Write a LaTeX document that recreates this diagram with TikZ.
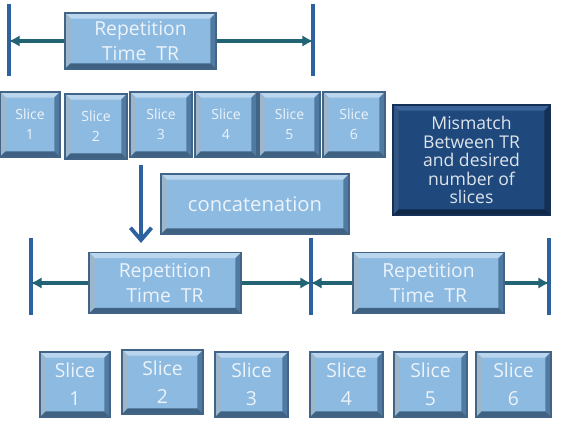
\documentclass[tikz,border=0pt]{standalone}
\usepackage{fontspec}
\setmainfont{Open Sans}
\usetikzlibrary{arrows.meta}

\definecolor{faceblue}{RGB}{141,186,225}
\definecolor{lightedge}{RGB}{186,214,238}
\definecolor{darkedge}{RGB}{80,122,162}
\definecolor{boxline}{RGB}{66,100,135}
\definecolor{boxtext}{RGB}{236,243,250}
\definecolor{navyface}{RGB}{31,73,125}
\definecolor{navylight}{RGB}{60,100,152}
\definecolor{navydark}{RGB}{20,48,86}
\definecolor{notetext}{RGB}{222,228,236}
\definecolor{barblue}{RGB}{46,98,158}
\definecolor{tealline}{RGB}{34,100,116}

\tikzset{
  boxsize/.style 2 args={minimum width=#1*0.02cm, minimum height=#2*0.02cm},
  % bevelled edges drawn inside the node
  bevel/.style 2 args={path picture={
    \fill[#1] (path picture bounding box.north west) -- (path picture bounding box.north east)
      -- ([xshift=-3.2pt,yshift=-3.2pt]path picture bounding box.north east)
      -- ([xshift=3.2pt,yshift=-3.2pt]path picture bounding box.north west) -- cycle;
    \fill[#1!85!black] (path picture bounding box.north west) -- (path picture bounding box.south west)
      -- ([xshift=3.2pt,yshift=3.2pt]path picture bounding box.south west)
      -- ([xshift=3.2pt,yshift=-3.2pt]path picture bounding box.north west) -- cycle;
    \fill[#2] (path picture bounding box.north east) -- (path picture bounding box.south east)
      -- ([xshift=-3.2pt,yshift=3.2pt]path picture bounding box.south east)
      -- ([xshift=-3.2pt,yshift=-3.2pt]path picture bounding box.north east) -- cycle;
    \fill[#2!80!black] (path picture bounding box.south west) -- (path picture bounding box.south east)
      -- ([xshift=-3.2pt,yshift=3.2pt]path picture bounding box.south east)
      -- ([xshift=3.2pt,yshift=3.2pt]path picture bounding box.south west) -- cycle;
  }},
  lightbox/.style={fill=faceblue, draw=boxline, line width=0.6pt, text=boxtext,
    inner sep=0pt, align=center, bevel={lightedge}{darkedge}},
  reptext/.style={font=\fontsize{11}{14}\selectfont},
  bar/.style={barblue, line width=2.3pt},
  trline/.style={tealline, line width=1.9pt, -{Latex[length=6pt,width=6.5pt]}},
}

\begin{document}
\begin{tikzpicture}[x=0.02cm, y=-0.02cm]
    \useasboundingbox (0,0) rectangle (561,422);

    % first repetition time and its slices
    \coordinate (tl) at (9,41);
    \coordinate (tr) at (313,41);
    \draw[bar] (tl) ++(0,-37) -- ++(0,72);
    \draw[bar] (tr) ++(0,-37) -- ++(0,72);
    \node[lightbox, reptext, boxsize={151}{56}] (toptr) at (140.5,41) {Repetition\\Time\ \ TR};
    \draw[trline] (toptr) -- (tl);
    \draw[trline] (toptr) -- (tr);

    \node[lightbox, font=\fontsize{8}{11.3}\selectfont, boxsize={60}{65}] (ts1) at (30,124.5) {Slice\\1};
    \node[lightbox, font=\fontsize{8}{11.3}\selectfont, boxsize={62}{65}] (ts2) at (96,126.5) {Slice\\2};
    \node[lightbox, font=\fontsize{8}{11.3}\selectfont, boxsize={62}{65}] (ts3) at (161,124.5) {Slice\\3};
    \node[lightbox, font=\fontsize{8}{11.3}\selectfont, boxsize={62}{65}] (ts4) at (226,124.5) {Slice\\4};
    \node[lightbox, font=\fontsize{8}{11.3}\selectfont, boxsize={61}{65}] (ts5) at (289.5,124.5) {Slice\\5};
    \node[lightbox, font=\fontsize{8}{11.3}\selectfont, boxsize={62}{65}] (ts6) at (354,124.5) {Slice\\6};

    % note on the right
    \node[fill=navyface, draw=navydark, line width=0.6pt, text=notetext, inner sep=0pt,
      align=center, bevel={navylight}{navydark}, font=\fontsize{10}{10.5}\selectfont,
      boxsize={157}{110}] (note) at (471.5,160)
      {Mismatch\\Between TR\\and desired\\number of\\slices};

    % concatenation step
    \coordinate (dstart) at (141,165);
    \coordinate (dend) at (141,243);
    \draw[barblue, line width=2.4pt, -{Straight Barb[length=7pt,width=12pt,line width=2.2pt]}] (dstart) -- (dend);
    \node[lightbox, font=\fontsize{11.5}{14}\selectfont, boxsize={188}{60}] (concat) at (255,204) {concatenation};

    % two repetition times after concatenation
    \coordinate (bl) at (31,283);
    \coordinate (bm) at (311,283);
    \coordinate (br) at (549,283);
    \draw[bar] (bl) ++(0,-45) -- ++(0,77);
    \draw[bar] (bm) ++(0,-45) -- ++(0,77);
    \draw[bar] (br) ++(0,-45) -- ++(0,77);
    \node[lightbox, reptext, boxsize={152}{61}] (lefttr) at (165,283) {Repetition\\Time\ \ TR};
    \node[lightbox, reptext, boxsize={151}{61}] (righttr) at (428.5,283) {Repetition\\Time\ \ TR};
    \draw[trline] (lefttr) -- (bl);
    \draw[trline] (lefttr) -- (bm);
    \draw[trline] (righttr) -- (bm);
    \draw[trline] (righttr) -- (br);

    \node[lightbox, font=\fontsize{11}{16}\selectfont, boxsize={70}{65}] (bs1) at (75,384.5) {Slice\\1};
    \node[lightbox, font=\fontsize{11}{16}\selectfont, boxsize={81}{64}] (bs2) at (162.5,382) {Slice\\2};
    \node[lightbox, font=\fontsize{11}{16}\selectfont, boxsize={73}{65}] (bs3) at (251.5,384.5) {Slice\\3};
    \node[lightbox, font=\fontsize{11}{16}\selectfont, boxsize={73}{65}] (bs4) at (346.5,384.5) {Slice\\4};
    \node[lightbox, font=\fontsize{11}{16}\selectfont, boxsize={73}{65}] (bs5) at (430.5,384.5) {Slice\\5};
    \node[lightbox, font=\fontsize{11}{16}\selectfont, boxsize={75}{65}] (bs6) at (513.5,384.5) {Slice\\6};
\end{tikzpicture}
\end{document}
